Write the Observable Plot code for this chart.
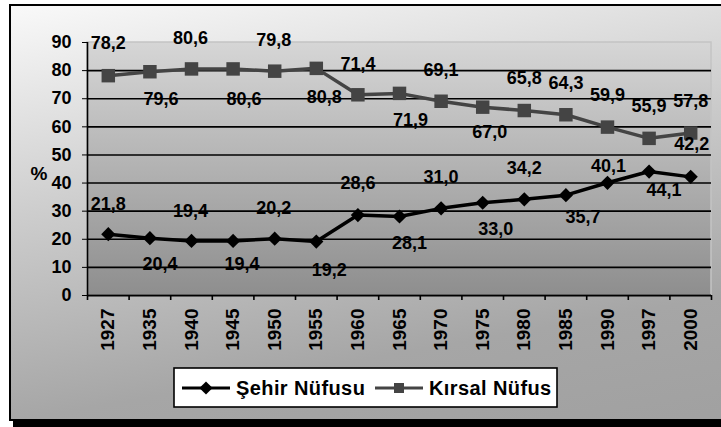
<!DOCTYPE html>
<html>
<head>
<meta charset="utf-8">
<script src="https://cdn.jsdelivr.net/npm/d3@7"></script>
<script src="https://cdn.jsdelivr.net/npm/@observablehq/plot@0.6"></script>
<style>
  html, body { margin: 0; padding: 0; background: #fff; }
  #chart { position: relative; width: 721px; height: 427px; overflow: hidden; }
  #frame { position: absolute; left: 9px; top: 4px; width: 800px; height: 413px;
           border: 2px solid #000;
           background: linear-gradient(170deg, #f9f9f9 0%, #cdcdcd 38%, #a6a6a6 75%, #a0a0a0 100%);
           box-shadow: 4px 7px 0 #000; }
  #chart svg { position: absolute; left: 0; top: 0; }
</style>
</head>
<body>
<div id="chart"><div id="frame"></div></div>
<script>
// ---- data ----
const years = ["1927","1935","1940","1945","1950","1955","1960","1965","1970","1975","1980","1985","1990","1997","2000"];
const sehir  = [21.8, 20.4, 19.4, 19.4, 20.2, 19.2, 28.6, 28.1, 31.0, 33.0, 34.2, 35.7, 40.1, 44.1, 42.2];
const kirsal = [78.2, 79.6, 80.6, 80.6, 79.8, 80.8, 71.4, 71.9, 69.1, 67.0, 65.8, 64.3, 59.9, 55.9, 57.8];
const sehirLabels  = ["21,8","20,4","19,4","19,4","20,2","19,2","28,6","28,1","31,0","33,0","34,2","35,7","40,1","44,1","42,2"];
const kirsalLabels = ["78,2","79,6","80,6","80,6","79,8","80,8","71,4","71,9","69,1","67,0","65,8","64,3","59,9","55,9","57,8"];
const yTicks = [0,10,20,30,40,50,60,70,80,90];
const seriesNames = ["Şehir Nüfusu", "Kırsal Nüfus"];

// label placement (pixel offsets from each point, as in the reference)
const kirsalOff = [[0,-32],[11,27],[-1,-31],[11,30],[-1,-31],[8,29],[0,-31],[11,27],[0,-31],[7,25],[0,-32],[0,-32],[0,-32],[0,-32],[0,-32]];
const sehirOff  = [[0,-30],[10,26],[-1,-30],[9,23],[-1,-30],[13,29],[0,-32],[10,27],[0,-31],[13,27],[0,-31],[17,22],[1,-17],[15,19],[1,-33]];

const sehirData  = years.map((yr, i) => ({i: i + 0.5, year: yr, v: sehir[i],  label: sehirLabels[i]}));
const kirsalData = years.map((yr, i) => ({i: i + 0.5, year: yr, v: kirsal[i], label: kirsalLabels[i]}));

const W = 721, H = 427;
const mL = 87, mR = 10, mT = 42, mB = 132;
const n = years.length;
const unitY = (H - mT - mB) / 90;

const cK = "#444444", cS = "#000000";
const font = "'Liberation Sans', Arial, sans-serif";

const labelMarks = [];
kirsalData.forEach((d, k) => labelMarks.push(Plot.text([d], {x: "i", y: "v", text: "label", dx: kirsalOff[k][0], dy: kirsalOff[k][1], fill: "#000", fontSize: 18, fontWeight: "bold"})));
sehirData.forEach((d, k) => labelMarks.push(Plot.text([d], {x: "i", y: "v", text: "label", dx: sehirOff[k][0], dy: sehirOff[k][1], fill: "#000", fontSize: 18, fontWeight: "bold"})));

const chart = Plot.plot({
  width: W, height: H,
  marginLeft: mL, marginRight: mR, marginTop: mT, marginBottom: mB,
  style: {background: "transparent", fontFamily: font, fontWeight: "bold", fontSize: "18px", color: "#000", overflow: "visible"},
  x: {type: "linear", domain: [0, n], ticks: years.map((_, i) => i + 0.5), tickFormat: v => years[Math.floor(v)], tickSize: 0, tickPadding: 13, tickRotate: -90, label: null},
  y: {domain: [0, 90], ticks: yTicks, tickSize: 5, tickPadding: 11, label: null},
  marks: [
    Plot.ruleY(d3.range(10, 90, 10), {stroke: "#000", strokeWidth: 1.6}),
    Plot.ruleY([0], {stroke: "#000", strokeWidth: 2}),
    Plot.ruleX([0], {y1: 0, y2: 90, stroke: "#000", strokeWidth: 1.6}),
    Plot.ruleX(d3.range(0, n + 1), {y1: 0, y2: -5 / unitY, stroke: "#000", strokeWidth: 1.6}),
    Plot.line(kirsalData, {x: "i", y: "v", stroke: cK, strokeWidth: 3.5}),
    Plot.dot(kirsalData, {x: "i", y: "v", symbol: "square", r: 7.6, fill: cK, stroke: "none"}),
    Plot.line(sehirData, {x: "i", y: "v", stroke: cS, strokeWidth: 3.5}),
    Plot.dot(sehirData, {x: "i", y: "v", symbol: "diamond2", r: 6.4, fill: cS, stroke: "none"}),
    Plot.text(["%"], {frameAnchor: "left", dx: -57, dy: 5, fontSize: 19, fontWeight: "bold", fill: "#000"}),
    ...labelMarks
  ]
});

// ---- plot-area background and legend ----
const svg = d3.select(chart);
svg.selectAll("g[aria-label='x-axis tick label'] text, g[aria-label='x-axis'] text").style("font-size", "19px");
const defs = svg.insert("defs", ":first-child");
const g2 = defs.append("linearGradient").attr("id", "plotGrad").attr("x1", 0).attr("y1", 0).attr("x2", 0).attr("y2", 1);
g2.append("stop").attr("offset", "0").attr("stop-color", "#d6d6d6");
g2.append("stop").attr("offset", "1").attr("stop-color", "#8e8e8e");

const xs = chart.scale("x"), ys = chart.scale("y");
const px0 = xs.apply(0), px1 = xs.apply(n), py0 = ys.apply(90), py1 = ys.apply(0);

const bg = svg.insert("g", "defs + *");
bg.append("rect").attr("x", px0).attr("y", py0).attr("width", px1 - px0).attr("height", py1 - py0)
  .attr("fill", "url(#plotGrad)").attr("stroke", "#c4c4c4").attr("stroke-width", 1.5);

const lg = svg.append("g").attr("font-family", font).attr("font-weight", "bold").attr("font-size", 20).attr("text-anchor", "start");
lg.append("rect").attr("x", 174).attr("y", 368).attr("width", 383).attr("height", 39)
  .attr("fill", "#fff").attr("stroke", "#000").attr("stroke-width", 1.6);
lg.append("line").attr("x1", 182).attr("x2", 230).attr("y1", 388).attr("y2", 388).attr("stroke", cS).attr("stroke-width", 3);
lg.append("path").attr("d", d3.symbol(d3.symbolDiamond2, 110)()).attr("transform", "translate(206,388)").attr("fill", cS);
lg.append("text").attr("x", 236).attr("y", 395).attr("text-anchor", "start").attr("letter-spacing", 0.4).text(seriesNames[0]);
lg.append("line").attr("x1", 375).attr("x2", 423).attr("y1", 388).attr("y2", 388).attr("stroke", cK).attr("stroke-width", 3);
lg.append("path").attr("d", d3.symbol(d3.symbolSquare, 100)()).attr("transform", "translate(399,388)").attr("fill", cK);
lg.append("text").attr("x", 429).attr("y", 395).attr("text-anchor", "start").attr("letter-spacing", 0.4).text(seriesNames[1]);

document.getElementById("chart").appendChild(chart);
</script>
</body>
</html>
